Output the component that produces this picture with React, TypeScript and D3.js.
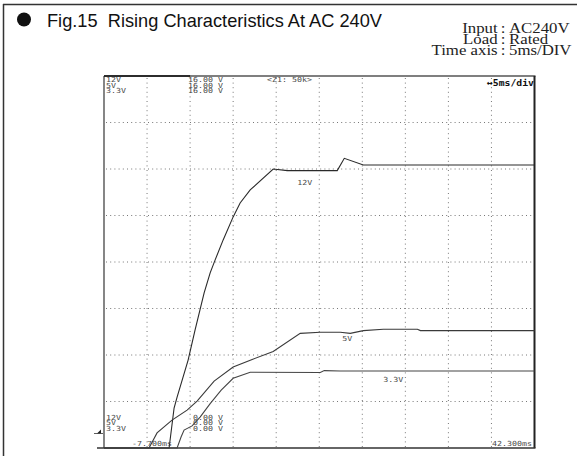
import React from "react";
import * as d3 from "d3";

// time in ms, voltage in V
const t12 = [-7.7, -0.14, 0.44, 0.79, 2.07, 2.88, 3.93, 4.63, 5.21, 6.14, 7.3, 8.11, 9.28, 11.95, 13.58, 19.39, 20.21, 22.42, 42.3];
const v12 = [0, 0, 1.72, 2.19, 3.78, 5.08, 6.67, 7.53, 8.09, 8.95, 9.94, 10.54, 11.1, 12.0, 11.93, 11.93, 12.46, 12.17, 12.17];

const t5 = [-7.7, -2.47, -1.54, 0.2, 1.95, 3.11, 5.09, 7.3, 9.51, 11.95, 15.09, 17.42, 19.74, 20.9, 22.42, 24.74, 28.7, 29.05, 42.3];
const v5 = [0, 0, 0.65, 1.2, 1.63, 2.02, 2.88, 3.48, 3.81, 4.15, 4.93, 4.98, 4.98, 4.93, 5.05, 5.11, 5.11, 5.05, 5.05];

const t33 = [-7.7, 0.79, 1.25, 1.6, 2.53, 3.46, 4.63, 5.91, 7.3, 9.28, 17.42, 17.88, 19.74, 42.3];
const v33 = [0, 0, 0.47, 0.77, 0.95, 1.33, 1.91, 2.49, 3.0, 3.26, 3.25, 3.33, 3.31, 3.31];

const channelNames = ["12V", "5V", "3.3V"];
const topScaleLabels = ["16.00 V", "16.00 V", "16.00 V"];
const bottomScaleLabels = ["0.00 V", "0.00 V", "0.00 V"];
const traceLabels = [
  { text: "12V", t: 14.74, v: 11.3 },
  { text: "5V", t: 19.97, v: 4.6 },
  { text: "3.3V", t: 24.74, v: 2.86 },
];
const tStart = -7.7;
const tEnd = 42.3;
const divMs = 5;
const vMax = 16;
const vDiv = 2;

const title = "Fig.15  Rising Characteristics At AC 240V";
const conditionKeys = ["Input", "Load", "Time axis"];
const conditionVals = ["AC240V", "Rated", "5ms/DIV"];

export default function App() {
  const W = 577, H = 456;
  const L = 104, R = 534.5, T = 76, B = 448;
  const x = d3.scaleLinear().domain([tStart, tEnd]).range([L, R]);
  const y = d3.scaleLinear().domain([0, vMax]).range([B, T]);
  const line = d3
    .line<[number, number]>()
    .x((d) => x(d[0]))
    .y((d) => y(d[1]));
  const series = [
    { t: t12, v: v12, c: "#2a2a2a" },
    { t: t5, v: v5, c: "#3a3a3a" },
    { t: t33, v: v33, c: "#444" },
  ];
  const vGrid = d3.range(1, Math.round((tEnd - tStart) / divMs)).map((i) => tStart + i * divMs);
  const hGrid = d3.range(1, vMax / vDiv).map((i) => i * vDiv);
  const mono = "'DejaVu Sans Mono', monospace";
  const charW = 5;
  const small = (key: string, tx: number, ty: number, s: string) => (
    <text key={key} x={tx} y={ty} textLength={s.length * charW} lengthAdjust="spacingAndGlyphs" style={{ whiteSpace: "pre" }}>
      {s}
    </text>
  );
  const cx = 503;
  return (
    <svg width={W} height={H} style={{ position: "absolute", left: 0, top: 0, background: "#fff" }}>
      <rect x={0} y={0} width={W} height={H} fill="#fff" />
      {/* outer frame */}
      <line x1={3} y1={4.5} x2={W} y2={4.5} stroke="#333" strokeWidth={1.5} />
      <line x1={3.5} y1={4} x2={3.5} y2={H} stroke="#333" strokeWidth={1.5} />
      {/* title */}
      <circle cx={24} cy={19.5} r={7} fill="#111" />
      <text
        x={47}
        y={27}
        fontFamily="'Liberation Sans', Arial, sans-serif"
        fontSize={19}
        fill="#111"
        textLength={335}
        lengthAdjust="spacingAndGlyphs"
        style={{ whiteSpace: "pre" }}
      >
        {title}
      </text>
      <g
        transform={`translate(${cx},0) scale(1.2,1) translate(${-cx},0)`}
        fontFamily="'Liberation Serif', 'Times New Roman', serif"
        fontSize={14}
        fill="#222"
      >
        {conditionKeys.map((k, i) => (
          <g key={k}>
            <text x={cx - 4.5} y={33.5 + i * 10.6} textAnchor="end">{k}</text>
            <text x={cx} y={33.5 + i * 10.6} textAnchor="middle">:</text>
            <text x={cx + 5} y={33.5 + i * 10.6}>{conditionVals[i]}</text>
          </g>
        ))}
      </g>
      {/* grid */}
      {vGrid.map((t) => (
        <line key={"v" + t} x1={x(t)} x2={x(t)} y1={T + 2} y2={B} stroke="#777" strokeWidth={1} strokeDasharray="1 3.6" />
      ))}
      {hGrid.map((v) => (
        <line key={"h" + v} x1={L + 2} x2={R} y1={y(v)} y2={y(v)} stroke="#777" strokeWidth={1} strokeDasharray="1 3.2" />
      ))}
      {/* plot border */}
      <line x1={L} x2={L} y1={T} y2={B} stroke="#444" strokeWidth={1.3} />
      <line x1={L} x2={R + 1} y1={T} y2={T} stroke="#555" strokeWidth={1.3} />
      <line x1={L} x2={x(tStart + 2 * divMs)} y1={T} y2={T} stroke="#111" strokeWidth={1.6} />
      <line x1={R} x2={R} y1={T} y2={B} stroke="#222" strokeWidth={2} />
      <line x1={97} x2={R + 1} y1={B} y2={B} stroke="#333" strokeWidth={1.3} />
      {/* ground marker */}
      <path d={`M ${97} ${433.5} L ${101} ${433.5} L ${101} ${429.5} Z`} fill="#222" />
      <line x1={94} x2={103} y1={433.5} y2={433.5} stroke="#333" strokeWidth={0.8} />
      {/* traces */}
      {series.map((s, i) => (
        <path
          key={i}
          d={line(s.t.map((t, j) => [t, s.v[j]] as [number, number])) || ""}
          fill="none"
          stroke={s.c}
          strokeWidth={1.1}
        />
      ))}
      {/* scope texts */}
      <g fontFamily={mono} fontSize={7} fill="#4a4a4a">
        {channelNames.map((n, i) => small("tn" + i, 106, 82 + i * 5.7, n))}
        {topScaleLabels.map((n, i) => small("ts" + i, 188, 82 + i * 5.7, n))}
        {small("z1", 267, 82, "<Z1: 50k>")}
        {channelNames.map((n, i) => small("bn" + i, 106, 419.5 + i * 5.9, n))}
        {bottomScaleLabels.map((n, i) => small("bs" + i, 193, 419.5 + i * 5.9, n))}
        {small("t0", 132, 446, "-7.700ms")}
        {small("t1", 492, 446, "42.300ms")}
        {traceLabels.map((l) => small(l.text, x(l.t), y(l.v), l.text))}
      </g>
      <text x={487} y={85.5} fontFamily={mono} fontSize={9.5} fill="#111" fontWeight="bold" textLength={47} lengthAdjust="spacingAndGlyphs">
        {"↔5ms/div"}
      </text>
    </svg>
  );
}
